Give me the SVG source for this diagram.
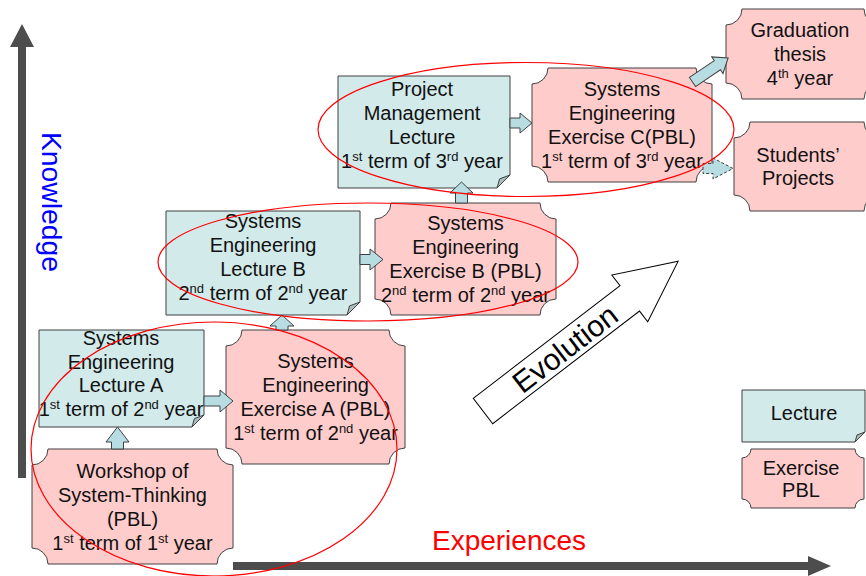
<svg xmlns="http://www.w3.org/2000/svg" width="866" height="576" viewBox="0 0 866 576">
<style>
.lec{fill:#D2EAEA;stroke:#404040;stroke-width:1}
.fold{fill:#A8BDBD;stroke:#404040;stroke-width:1}
.ex{fill:#FFCCCC;stroke:#404040;stroke-width:1}
.t{font-family:"Liberation Sans",Arial,sans-serif;font-size:20px;fill:#111;text-anchor:middle}
.s{font-size:13px}
.ba{fill:#B7DDE3;stroke:#404040;stroke-width:1}
.ell{fill:none;stroke:#FF0000;stroke-width:1.2}
.axis{fill:#4D4D4D}
</style>
<rect width="866" height="576" fill="#fff"/>
<g id="axes">
<polygon class="axis" points="18,478 18,47 10,47 22,24 34,47 26,47 26,478"/>
<polygon class="axis" points="233,562 808,562 808,556 831,566 808,576 808,570 233,570"/>
<text transform="translate(41.5,202) rotate(90)" x="0" y="0" font-family="Liberation Sans, Arial, sans-serif" font-size="27" fill="#0000FF" text-anchor="middle" textLength="140" lengthAdjust="spacingAndGlyphs">Knowledge</text>
<text x="509" y="550" font-family="Liberation Sans, Arial, sans-serif" font-size="28" fill="#FF0000" text-anchor="middle">Experiences</text>
</g>
<g id="evolution" transform="translate(483,411) rotate(-37.5)">
<polygon points="0,-16 185,-16 185,-29.5 246,0 185,29.5 185,16 0,16" fill="#fff" stroke="#000" stroke-width="1"/>
<text x="103" y="11" font-family="Liberation Sans, Arial, sans-serif" font-size="30" fill="#000" text-anchor="middle">Evolution</text>
</g>
<g id="node-lecture-a">
<path class="lec" d="M39,330 H204 V415 L192,427 H39 Z"/>
<path class="fold" d="M192,427 L194.4,418.6 L204,415 Z"/>
<text class="t" x="121"><tspan x="121" y="344.5">Systems</tspan><tspan x="121" y="368.5">Engineering</tspan><tspan x="121" y="392">Lecture A</tspan><tspan x="121" y="416">1</tspan><tspan class="s" dy="-7">st</tspan><tspan dy="7"> term of 2</tspan><tspan class="s" dy="-7">nd</tspan><tspan dy="7"> year</tspan></text>
</g>
<g id="node-workshop">
<path class="ex" d="M48,449 H217 A16,16 0 0 0 233,465 V548 A16,16 0 0 0 217,564 H48 A16,16 0 0 0 32,548 V465 A16,16 0 0 0 48,449 Z"/>
<text class="t"><tspan x="132.5" y="478">Workshop of</tspan><tspan x="132.5" y="502">System-Thinking</tspan><tspan x="132.5" y="526">(PBL)</tspan><tspan x="132.5" y="549.5">1</tspan><tspan class="s" dy="-7">st</tspan><tspan dy="7"> term of 1</tspan><tspan class="s" dy="-7">st</tspan><tspan dy="7"> year</tspan></text>
</g>
<g id="node-exercise-a">
<path class="ex" d="M242,330 H389 A16,16 0 0 0 405,346 V448 A16,16 0 0 0 389,464 H242 A16,16 0 0 0 226,448 V346 A16,16 0 0 0 242,330 Z"/>
<text class="t"><tspan x="315.5" y="368">Systems</tspan><tspan x="315.5" y="392">Engineering</tspan><tspan x="315.5" y="416">Exercise A (PBL)</tspan><tspan x="315.5" y="440">1</tspan><tspan class="s" dy="-7">st</tspan><tspan dy="7"> term of 2</tspan><tspan class="s" dy="-7">nd</tspan><tspan dy="7"> year</tspan></text>
</g>
<g id="node-lecture-b">
<path class="lec" d="M166,211 H360 V302 L347,315 H166 Z"/>
<path class="fold" d="M347,315 L349.6,305.9 L360,302 Z"/>
<text class="t"><tspan x="263" y="228">Systems</tspan><tspan x="263" y="252">Engineering</tspan><tspan x="263" y="275.5">Lecture B</tspan><tspan x="263" y="300">2</tspan><tspan class="s" dy="-7">nd</tspan><tspan dy="7"> term of 2</tspan><tspan class="s" dy="-7">nd</tspan><tspan dy="7"> year</tspan></text>
</g>
<g id="node-exercise-b">
<path class="ex" d="M391,203 H540 A16,16 0 0 0 556,219 V299 A16,16 0 0 0 540,315 H391 A16,16 0 0 0 375,299 V219 A16,16 0 0 0 391,203 Z"/>
<text class="t"><tspan x="465.5" y="230">Systems</tspan><tspan x="465.5" y="254">Engineering</tspan><tspan x="465.5" y="278">Exercise B (PBL)</tspan><tspan x="465.5" y="302">2</tspan><tspan class="s" dy="-7">nd</tspan><tspan dy="7"> term of 2</tspan><tspan class="s" dy="-7">nd</tspan><tspan dy="7"> year</tspan></text>
</g>
<g id="node-project-management">
<path class="lec" d="M338,76 H510 V175 L497,188 H338 Z"/>
<path class="fold" d="M497,188 L499.6,178.9 L510,175 Z"/>
<text class="t"><tspan x="422" y="96">Project</tspan><tspan x="422" y="120">Management</tspan><tspan x="422" y="143.5">Lecture</tspan><tspan x="422" y="168">1</tspan><tspan class="s" dy="-7">st</tspan><tspan dy="7"> term of 3</tspan><tspan class="s" dy="-7">rd</tspan><tspan dy="7"> year</tspan></text>
</g>
<g id="node-exercise-c">
<path class="ex" d="M548,68 H696 A16,16 0 0 0 712,84 V166 A16,16 0 0 0 696,182 H548 A16,16 0 0 0 532,166 V84 A16,16 0 0 0 548,68 Z"/>
<text class="t"><tspan x="622" y="96">Systems</tspan><tspan x="622" y="120">Engineering</tspan><tspan x="622" y="143.5">Exercise C(PBL)</tspan><tspan x="622" y="168">1</tspan><tspan class="s" dy="-7">st</tspan><tspan dy="7"> term of 3</tspan><tspan class="s" dy="-7">rd</tspan><tspan dy="7"> year</tspan></text>
</g>
<g id="node-graduation">
<path class="ex" d="M742,9 H864 A16,16 0 0 0 880,25 V83 A16,16 0 0 0 864,99 H742 A16,16 0 0 0 726,83 V25 A16,16 0 0 0 742,9 Z"/>
<text class="t"><tspan x="800" y="37">Graduation</tspan><tspan x="800" y="61">thesis</tspan><tspan x="800" y="85">4</tspan><tspan class="s" dy="-7">th</tspan><tspan dy="7"> year</tspan></text>
</g>
<g id="node-students-projects">
<path class="ex" d="M750,122 H864 A16,16 0 0 0 880,138 V195 A16,16 0 0 0 864,211 H750 A16,16 0 0 0 734,195 V138 A16,16 0 0 0 750,122 Z"/>
<text class="t"><tspan x="798" y="162">Students’</tspan><tspan x="798" y="185">Projects</tspan></text>
</g>
<g id="legend-lecture">
<path class="lec" d="M742,390 H865 V432 L855,442 H742 Z"/>
<path class="fold" d="M855,442 L857,435 L865,432 Z"/>
<text class="t" x="804" y="420">Lecture</text>
</g>
<g id="legend-exercise">
<path class="ex" d="M751,449 H855 A9,9 0 0 0 864,458 V499 A9,9 0 0 0 855,508 H751 A9,9 0 0 0 742,499 V458 A9,9 0 0 0 751,449 Z"/>
<text class="t"><tspan x="801" y="475">Exercise</tspan><tspan x="801" y="497">PBL</tspan></text>
</g>
<g id="connectors">
<polygon class="ba" points="117.5,427 129,442 123.5,442 123.5,449 111.5,449 111.5,442 106,442"/>
<polygon class="ba" points="204,396 220,396 220,390 233,401 220,412 220,406 204,406"/>
<polygon class="ba" points="282,315 294,326 288,326 288,330 276,330 276,326 270,326"/>
<polygon class="ba" points="360,254.5 370,254.5 370,249 383,259.5 370,270 370,264.5 360,264.5"/>
<polygon class="ba" points="461.5,182 473,193 467.5,193 467.5,203 455.5,203 455.5,193 450,193"/>
<polygon class="ba" points="510,118 520,118 520,113 532,123 520,133 520,128 510,128"/>
<polygon class="ba" transform="translate(692.5,82) rotate(-34)" points="0,-5.5 30,-5.5 30,-10 43,0 30,10 30,5.5 0,5.5"/>
<polygon class="ba" stroke-dasharray="3,2" points="703,163.5 713,163.5 713,158 733,168.5 713,179 713,173.5 703,173.5"/>
</g>
<g id="groupings">
<ellipse class="ell" cx="214" cy="449" rx="183" ry="127"/>
<ellipse class="ell" cx="368" cy="262" rx="210" ry="59"/>
<ellipse class="ell" cx="526" cy="129.5" rx="208" ry="67"/>
</g>
</svg>
